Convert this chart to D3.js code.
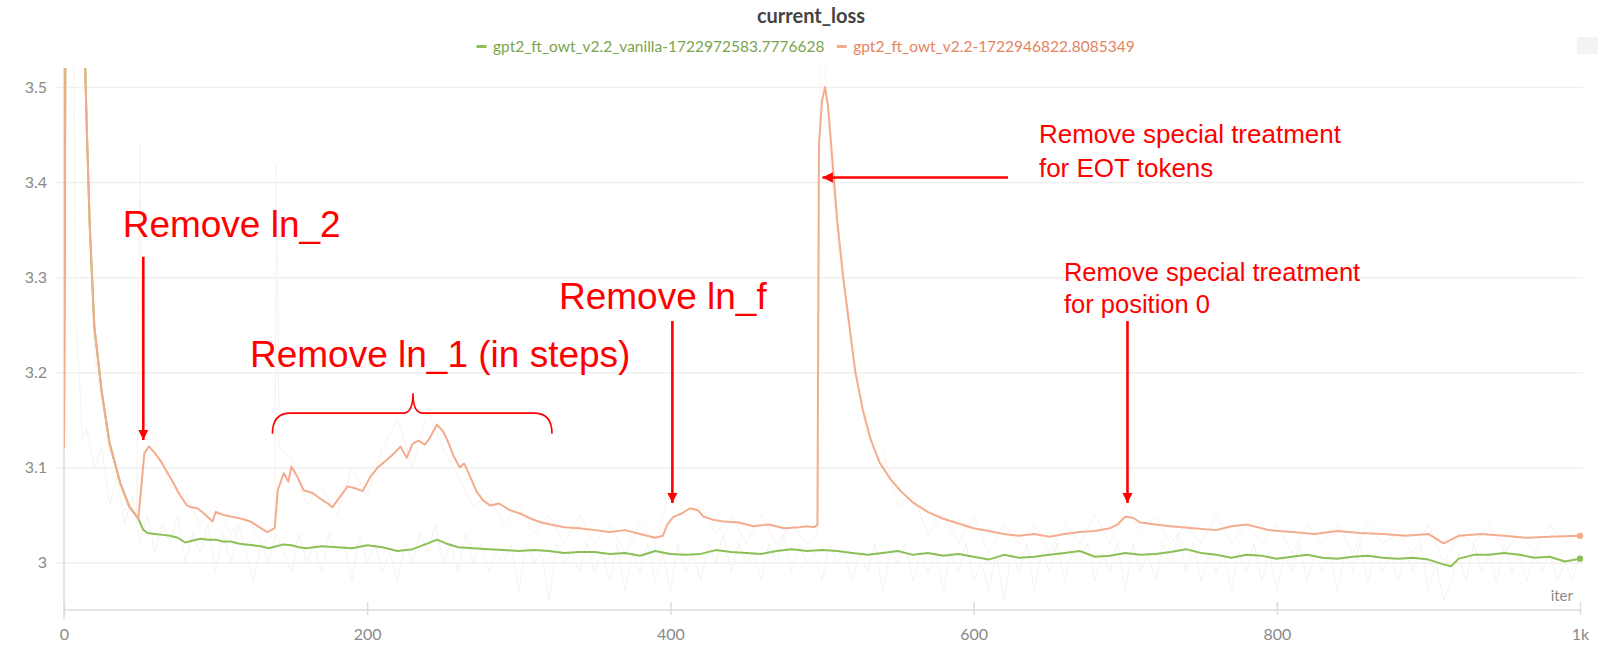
<!DOCTYPE html>
<html>
<head>
<meta charset="utf-8">
<script src="https://cdn.jsdelivr.net/npm/d3@7/dist/d3.min.js"></script>
<style>
  html, body { margin: 0; padding: 0; background: #ffffff; }
  svg { display: block; }
</style>
</head>
<body>
<svg id="chart" width="1600" height="656"></svg>
<script>
// ---------------- DATA ----------------
const chartTitle = "current_loss";
const seriesNames = ["gpt2_ft_owt_v2.2_vanilla-1722972583.7776628", "gpt2_ft_owt_v2.2-1722946822.8085349"];
const xTickValues = [0, 200, 400, 600, 800, 1000];
const xTickLabels = ["0", "200", "400", "600", "800", "1k"];
const yTickValues = [3, 3.1, 3.2, 3.3, 3.4, 3.5];
const yTickLabels = ["3", "3.1", "3.2", "3.3", "3.4", "3.5"];
const xAxisLabel = "iter";

// smoothed series: [iter, loss]
const v22Smooth = [
  [0,3.12],[1,3.60],[12,3.60],[14,3.52],[15,3.458],[17,3.353],[20,3.248],[25,3.178],[30,3.126],[37,3.084],[43,3.059],[49,3.046],
  [51,3.08],[53,3.115],[56,3.122],[60,3.115],[64,3.106],[68,3.095],[72,3.084],[76,3.072],[81,3.060],[84,3.058],[88,3.057],[92,3.052],
  [98,3.043],[100,3.053],[105,3.050],[111,3.048],[117,3.046],[123,3.043],[128,3.038],[134,3.032],[139,3.036],[141,3.076],[145,3.094],
  [148,3.085],[150,3.101],[154,3.090],[158,3.076],[164,3.073],[170,3.066],[174,3.062],[177,3.058],[182,3.069],[187,3.080],[192,3.078],
  [197,3.075],[202,3.090],[207,3.100],[213,3.108],[218,3.115],[222,3.122],[226,3.110],[230,3.125],[234,3.128],[238,3.124],[241,3.130],
  [246,3.145],[250,3.138],[253,3.128],[257,3.112],[261,3.100],[264,3.104],[268,3.090],[272,3.075],[276,3.066],[281,3.060],[287,3.062],
  [294,3.055],[300,3.052],[308,3.046],[315,3.042],[321,3.040],[330,3.037],[340,3.036],[350,3.034],[360,3.032],[370,3.034],[380,3.030],
  [390,3.026],[395,3.028],[398,3.040],[402,3.048],[408,3.052],[413,3.057],[418,3.055],[422,3.048],[428,3.045],[435,3.043],[445,3.042],
  [455,3.038],[465,3.040],[475,3.036],[485,3.037],[490,3.038],[495,3.037],[497,3.040],[498,3.44],[500,3.485],[502,3.50],[504,3.48],
  [506,3.44],[508,3.40],[510,3.36],[514,3.30],[518,3.25],[522,3.20],[527,3.16],[532,3.13],[538,3.105],[545,3.088],[552,3.075],
  [560,3.063],[570,3.053],[580,3.046],[590,3.041],[600,3.036],[610,3.033],[620,3.030],[630,3.028],[640,3.030],[650,3.027],[660,3.030],
  [670,3.032],[680,3.033],[690,3.036],[695,3.040],[700,3.048],[705,3.047],[710,3.042],[720,3.040],[730,3.038],[745,3.036],[760,3.034],
  [770,3.038],[780,3.040],[795,3.034],[810,3.032],[825,3.030],[840,3.033],[855,3.031],[870,3.030],[885,3.028],[900,3.030],[910,3.020],
  [920,3.028],[935,3.030],[950,3.028],[965,3.026],[980,3.027],[1000,3.028]
];
const vanillaSmooth = [
  [0,3.12],[1,3.60],[12,3.60],[14,3.52],[15,3.458],[17,3.353],[20,3.248],[25,3.178],[30,3.126],[37,3.084],[43,3.059],[49,3.046],
  [52,3.035],[55,3.031],[60,3.030],[65,3.029],[70,3.028],[75,3.026],[80,3.021],[85,3.023],[90,3.025],[95,3.024],[100,3.024],
  [105,3.022],[110,3.022],[115,3.020],[120,3.019],[125,3.018],[130,3.017],[135,3.015],[140,3.017],[145,3.019],[150,3.018],[155,3.016],
  [160,3.015],[170,3.017],[180,3.016],[190,3.015],[200,3.018],[210,3.016],[220,3.012],[230,3.014],[240,3.020],[246,3.024],[252,3.020],
  [260,3.016],[270,3.015],[280,3.014],[290,3.013],[300,3.012],[310,3.013],[320,3.012],[330,3.010],[340,3.011],[350,3.011],[360,3.009],
  [370,3.010],[380,3.007],[390,3.012],[400,3.009],[410,3.008],[420,3.009],[430,3.013],[440,3.011],[450,3.010],[460,3.009],[470,3.012],
  [480,3.014],[490,3.012],[500,3.013],[510,3.012],[520,3.010],[530,3.008],[540,3.010],[550,3.012],[560,3.008],[570,3.010],[580,3.007],
  [590,3.009],[600,3.006],[610,3.003],[620,3.008],[630,3.005],[640,3.006],[650,3.008],[660,3.010],[670,3.012],[680,3.006],[690,3.007],
  [700,3.010],[710,3.008],[720,3.009],[730,3.011],[740,3.014],[750,3.010],[760,3.008],[770,3.005],[780,3.008],[790,3.007],[800,3.004],
  [810,3.006],[820,3.008],[830,3.005],[840,3.004],[850,3.006],[860,3.007],[870,3.005],[880,3.004],[890,3.005],[900,3.003],[910,2.998],
  [915,2.996],[920,3.004],[930,3.008],[940,3.008],[950,3.010],[960,3.008],[970,3.005],[980,3.006],[990,3.001],[1000,3.004]
];
// raw (unsmoothed) series, drawn faintly
const vanillaRaw = [
  [0,3.12],[3,3.90],[6,3.60],[8,3.25],[10,3.20],[12,3.13],[15,3.14],[20,3.10],[25,3.12],[30,3.06],[35,3.09],[40,3.04],[45,3.07],
  [50,3.02],[55,3.05],[60,3.01],[65,3.04],[70,3.02],[75,3.05],[80,3.00],[85,3.03],[90,3.01],[95,3.04],[100,2.99],[105,3.03],[110,3.00],
  [115,3.04],[120,3.01],[125,2.98],[130,3.02],[135,3.00],[140,3.03],[145,3.01],[150,2.99],[155,3.03],[160,3.00],[165,3.02],[170,2.99],
  [175,3.03],[180,3.01],[185,3.02],[190,2.98],[195,3.03],[200,3.00],[205,3.02],[210,2.99],[215,3.01],[220,2.98],[225,3.02],[230,3.00],
  [235,3.03],[240,3.01],[245,3.04],[250,3.00],[255,3.02],[260,2.99],[265,3.03],[270,3.00],[275,3.02],[280,2.99],[285,3.01],[290,3.00],
  [295,3.02],[300,2.97],[305,3.02],[310,3.00],[315,3.01],[320,2.96],[325,3.02],[330,3.00],[335,3.01],[340,2.99],[345,3.02],[350,2.99],
  [355,3.01],[360,2.98],[365,3.02],[370,2.97],[375,3.01],[380,2.99],[385,3.02],[390,2.98],[395,3.01],[400,2.97],[405,3.02],[410,2.99],
  [415,3.01],[420,2.98],[425,3.02],[430,3.00],[435,3.03],[440,2.99],[445,3.02],[450,3.00],[455,3.01],[460,2.98],[465,3.02],[470,3.00],
  [475,3.03],[480,2.99],[485,3.02],[490,3.00],[495,3.01],[500,2.98],[505,3.02],[510,3.00],[515,3.01],[520,2.98],[525,3.01],[530,2.99],
  [535,3.02],[540,2.97],[545,3.01],[550,3.00],[555,3.02],[560,2.98],[565,3.01],[570,2.99],[575,3.01],[580,2.97],[585,3.01],[590,2.99],
  [595,3.02],[600,2.98],[605,3.00],[610,2.97],[615,3.01],[620,2.96],[625,3.01],[630,2.99],[635,3.02],[640,2.97],[645,3.01],[650,2.99],
  [655,3.02],[660,2.98],[665,3.01],[670,3.00],[675,3.02],[680,2.98],[685,3.01],[690,2.99],[695,3.02],[700,2.97],[705,3.02],[710,2.99],
  [715,3.01],[720,2.98],[725,3.02],[730,3.00],[735,3.03],[740,2.99],[745,3.02],[750,2.98],[755,3.01],[760,2.99],[765,3.01],[770,2.97],
  [775,3.01],[780,2.99],[785,3.02],[790,2.98],[795,3.01],[800,2.97],[805,3.01],[810,2.99],[815,3.02],[820,2.98],[825,3.01],[830,2.99],
  [835,3.01],[840,2.97],[845,3.01],[850,2.99],[855,3.02],[860,2.98],[865,3.01],[870,2.99],[875,3.01],[880,2.98],[885,3.01],[890,2.99],
  [895,3.02],[900,2.97],[905,3.00],[910,2.96],[915,2.98],[920,3.01],[925,2.98],[930,3.02],[935,2.99],[940,3.01],[945,2.98],[950,3.02],
  [955,2.99],[960,3.01],[965,2.98],[970,3.01],[975,2.99],[980,3.01],[985,2.98],[990,3.00],[995,2.98],[1000,3.01]
];
const v22Raw = [
  [0,3.12],[3,3.90],[10,3.70],[14,3.50],[20,3.22],[30,3.12],[40,3.07],[48,3.05],[50,3.44],[52,3.15],[60,3.13],[70,3.08],[80,3.07],
  [90,3.04],[100,3.06],[110,3.03],[120,3.05],[130,3.02],[139,3.03],[140,3.42],[142,3.12],[150,3.11],[160,3.06],[170,3.08],[180,3.05],
  [190,3.10],[200,3.07],[210,3.12],[220,3.15],[230,3.10],[240,3.16],[250,3.12],[260,3.09],[270,3.06],[280,3.07],[290,3.04],[300,3.06],
  [310,3.03],[320,3.05],[330,3.02],[340,3.05],[350,3.02],[360,3.04],[370,3.01],[380,3.04],[390,3.02],[400,3.08],[410,3.05],[420,3.06],
  [430,3.03],[440,3.05],[450,3.02],[460,3.05],[470,3.02],[480,3.04],[490,3.02],[497,3.03],[499,3.60],[505,3.44],[510,3.34],[515,3.28],
  [520,3.22],[530,3.13],[540,3.12],[550,3.06],[560,3.07],[570,3.03],[580,3.05],[590,3.02],[600,3.05],[610,3.01],[620,3.04],[630,3.02],
  [640,3.04],[650,3.01],[660,3.04],[670,3.02],[680,3.05],[690,3.02],[700,3.06],[710,3.03],[720,3.05],[730,3.02],[740,3.04],[750,3.02],
  [760,3.05],[770,3.02],[780,3.04],[790,3.02],[800,3.04],[810,3.01],[820,3.04],[830,3.02],[840,3.04],[850,3.01],[860,3.04],[870,3.02],
  [880,3.03],[890,3.01],[900,3.04],[910,3.00],[920,3.03],[930,3.02],[940,3.04],[950,3.01],[960,3.03],[970,3.01],[980,3.04],[990,3.02],
  [1000,3.03]
];

// annotations, anchored in data coordinates (iter, loss)
const annoTexts = [
  { lines: ["Remove ln_2"], iter: 38.7, loss: 3.3425, size: 37 },
  { lines: ["Remove ln_1 (in steps)"], iter: 122.7, loss: 3.2055, size: 37 },
  { lines: ["Remove ln_f"], iter: 326.5, loss: 3.2665, size: 37 },
  { lines: ["Remove special treatment", "for EOT tokens"], iter: 643.1, loss: 3.441, size: 26, lineGap: 34 },
  { lines: ["Remove special treatment", "for position 0"], iter: 659.6, loss: 3.296, size: 25.5, lineGap: 32 }
];
const annoArrows = [
  { from: [52.3, 3.3215], to: [52.3, 3.1288] },
  { from: [401.3, 3.2539], to: [401.3, 3.0625] },
  { from: [622.7, 3.4048], to: [500.3, 3.4048] },
  { from: [701.5, 3.2539], to: [701.5, 3.0625] }
];
const brace = { left: 137.5, right: 321.9, mid: 230.2, endLoss: 3.1354, barLoss: 3.157, tipLoss: 3.178 };

// ---------------- STYLE / LAYOUT ----------------
const colors = {
  vanilla: "#8cbf55", v22: "#f3ac8e",
  vanillaRaw: "#f2f6ea", v22Raw: "#fdf1ec",
  vanillaLegend: "#7aa54c", v22Legend: "#e3845f",
  grid: "#efefef", axis: "#dcdcdc", tick: "#8a8a8a", anno: "#ff0000"
};
const plot = { left: 64, right: 1580, top: 68, bottom: 610 };
const uiFont = "Lato, 'Open Sans', sans-serif";

const svg = d3.select("#chart");
const x = d3.scaleLinear().domain([0, 1000]).range([plot.left, plot.right]);
const y = d3.scaleLinear().domain([2.95, 3.52]).range([plot.bottom, plot.top]);

const defs = svg.append("defs");
defs.append("clipPath").attr("id", "plotclip")
  .append("rect").attr("x", plot.left).attr("y", plot.top)
  .attr("width", plot.right - plot.left + 6).attr("height", plot.bottom - plot.top);
defs.append("marker").attr("id", "arrowhead")
  .attr("viewBox", "0 0 10 10").attr("refX", 10).attr("refY", 5)
  .attr("markerWidth", 4).attr("markerHeight", 4.2).attr("markerUnits", "strokeWidth")
  .attr("orient", "auto")
  .append("path").attr("d", "M0,0 L10,5 L0,10 Z").attr("fill", colors.anno);

// grid (y)
const yAxis = d3.axisLeft(y).tickValues(yTickValues).tickFormat((d, i) => yTickLabels[i])
  .tickSize(-(plot.right + 3 - plot.left)).tickPadding(8);
const gy = svg.append("g").attr("transform", `translate(${plot.left},0)`).call(yAxis);
gy.select(".domain").remove();
gy.selectAll(".tick line").attr("stroke", colors.grid).attr("stroke-width", 1.5).attr("x1", -9);
gy.selectAll(".tick text").attr("fill", colors.tick).attr("font-family", uiFont)
  .attr("font-size", 16).attr("dx", -9);

// x axis
const xAxis = d3.axisBottom(x).tickValues(xTickValues).tickFormat((d, i) => xTickLabels[i])
  .tickSize(5).tickPadding(14);
const gx = svg.append("g").attr("transform", `translate(0,${plot.bottom})`).call(xAxis);
gx.select(".domain").attr("stroke", colors.axis).attr("stroke-width", 1.5)
  .attr("d", `M${plot.left},0H${plot.right}`);
gx.selectAll(".tick line").attr("stroke", colors.axis).attr("stroke-width", 1.5).attr("y1", -8);
gx.selectAll(".tick text").attr("fill", colors.tick).attr("font-family", uiFont).attr("font-size", 16);

// y axis line
svg.append("line").attr("x1", plot.left).attr("x2", plot.left)
  .attr("y1", plot.top).attr("y2", plot.bottom + 9)
  .attr("stroke", colors.axis).attr("stroke-width", 1.5);

// x axis label
svg.append("text").attr("x", plot.right - 7).attr("y", plot.bottom - 9)
  .attr("text-anchor", "end").attr("fill", colors.tick)
  .attr("font-family", uiFont).attr("font-size", 15).text(xAxisLabel);

// lines
const line = d3.line().x(d => x(d[0])).y(d => y(d[1]));
const gl = svg.append("g").attr("clip-path", "url(#plotclip)");
gl.append("path").datum(vanillaRaw).attr("d", line).attr("fill", "none")
  .attr("stroke", colors.vanillaRaw).attr("stroke-width", 1);
gl.append("path").datum(v22Raw).attr("d", line).attr("fill", "none")
  .attr("stroke", colors.v22Raw).attr("stroke-width", 1);
gl.append("path").datum(vanillaSmooth).attr("d", line).attr("fill", "none")
  .attr("stroke", colors.vanilla).attr("stroke-width", 2).attr("stroke-linejoin", "round");
gl.append("path").datum(v22Smooth).attr("d", line).attr("fill", "none")
  .attr("stroke", colors.v22).attr("stroke-width", 2).attr("stroke-linejoin", "round");
// end dots
[[vanillaSmooth, colors.vanilla], [v22Smooth, colors.v22]].forEach(([s, c]) => {
  const last = s[s.length - 1];
  svg.append("circle").attr("cx", x(last[0])).attr("cy", y(last[1])).attr("r", 3.2).attr("fill", c);
});

// title
svg.append("text").attr("x", 811).attr("y", 23).attr("text-anchor", "middle")
  .attr("fill", "#444444").attr("font-family", uiFont)
  .attr("font-size", 20).attr("font-weight", 700).text(chartTitle);

// legend
const legend = svg.append("g").attr("font-family", uiFont).attr("font-size", 15.5);
const legendColors = [[colors.vanilla, colors.vanillaLegend], [colors.v22, colors.v22Legend]];
const legendStarts = [476.5, 836.7];
seriesNames.forEach((name, i) => {
  legend.append("rect").attr("x", legendStarts[i]).attr("y", 45).attr("width", 10).attr("height", 3)
    .attr("fill", legendColors[i][0]);
  legend.append("text").attr("x", legendStarts[i] + 16.5).attr("y", 52)
    .attr("fill", legendColors[i][1]).text(name);
});
// small control square top right
svg.append("rect").attr("x", 1577).attr("y", 37).attr("width", 21).attr("height", 17).attr("fill", "#f3f3f3");

// annotations
const ga = svg.append("g").attr("fill", colors.anno).attr("font-family", "'Liberation Sans', Arial, sans-serif");
annoTexts.forEach(a => {
  a.lines.forEach((ln, k) => {
    ga.append("text").attr("x", x(a.iter)).attr("y", y(a.loss) + k * (a.lineGap || 0))
      .attr("font-size", a.size).text(ln);
  });
});
annoArrows.forEach(a => {
  svg.append("line").attr("x1", x(a.from[0])).attr("y1", y(a.from[1]))
    .attr("x2", x(a.to[0])).attr("y2", y(a.to[1]))
    .attr("stroke", colors.anno).attr("stroke-width", 2.6).attr("marker-end", "url(#arrowhead)");
});
{
  const xl = x(brace.left), xr = x(brace.right), xm = x(brace.mid);
  const ye = y(brace.endLoss), yb = y(brace.barLoss), yt = y(brace.tipLoss);
  const r = 18;
  const p = d3.path();
  p.moveTo(xl, ye);
  p.quadraticCurveTo(xl, yb, xl + r, yb);
  p.lineTo(xm - 10, yb);
  p.quadraticCurveTo(xm, yb, xm, yt);
  p.quadraticCurveTo(xm, yb, xm + 10, yb);
  p.lineTo(xr - r, yb);
  p.quadraticCurveTo(xr, yb, xr, ye);
  svg.append("path").attr("d", p.toString()).attr("fill", "none")
    .attr("stroke", colors.anno).attr("stroke-width", 1.6);
}
</script>
</body>
</html>
